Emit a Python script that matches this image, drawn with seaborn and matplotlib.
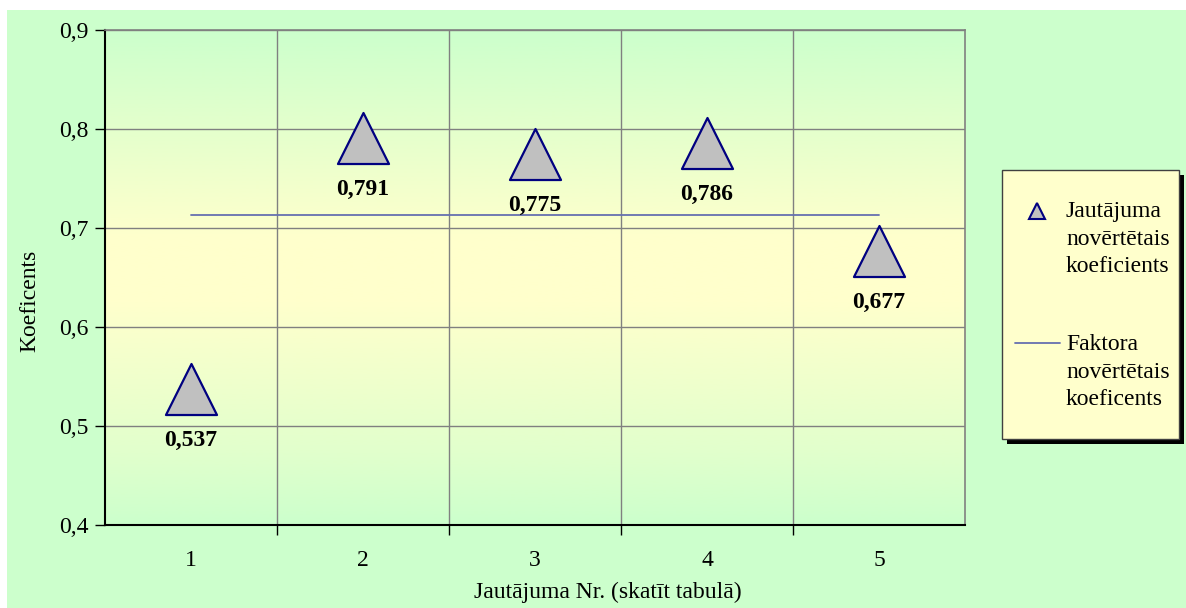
import numpy as np
import pandas as pd
import matplotlib
matplotlib.use("Agg")
import matplotlib.pyplot as plt
import matplotlib.transforms as mtransforms
from matplotlib.colors import LinearSegmentedColormap
from matplotlib.patches import Rectangle
from matplotlib.lines import Line2D
import seaborn as sns

# Data
questions = [1, 2, 3, 4, 5]
coefficients = [0.537, 0.791, 0.775, 0.786, 0.677]
factor_coefficient = round(float(np.mean(coefficients)), 4)
y_ticks = [0.4, 0.5, 0.6, 0.7, 0.8, 0.9]
y_tick_labels = ["0,4", "0,5", "0,6", "0,7", "0,8", "0,9"]
legend_labels = ["Jautājuma\nnovērtētais\nkoeficients", "Faktora\nnovērtētais\nkoeficents"]
x_label = "Jautājuma Nr. (skatīt tabulā)"
y_label = "Koeficents"

sns.set_theme(style="white")
plt.rcParams["font.family"] = ["Liberation Serif", "DejaVu Serif"]
plt.rcParams["text.color"] = "black"
plt.rcParams["xtick.color"] = "black"
plt.rcParams["ytick.color"] = "black"
plt.rcParams["xtick.labelcolor"] = "black"
plt.rcParams["ytick.labelcolor"] = "black"

GREEN = "#CCFFCC"
YELLOW = "#FFFFCC"
NAVY = "#000080"
FS = 17

df = pd.DataFrame({"q": questions, "k": coefficients})

fig = plt.figure(figsize=(11.86, 6.08), dpi=100)
fig.patch.set_facecolor("white")
fig.add_artist(Rectangle((7 / 1186, 0), 1 - 7 / 1186, 1 - 10 / 608,
                         transform=fig.transFigure, facecolor=GREEN,
                         edgecolor="none", zorder=-10))

ax = fig.add_axes([105 / 1186, 1 - 525 / 608, 860 / 1186, 495 / 608])
ax.set_xlim(0.5, 5.5)
ax.set_ylim(0.4, 0.9)

# Vertical gradient in the plot area: green at the edges, yellow in the middle
cmap = LinearSegmentedColormap.from_list(
    "bg", [(0.0, GREEN), (0.15, "#E2FFCC"), (0.45, YELLOW), (0.58, YELLOW), (1.0, GREEN)])
grad = np.linspace(1, 0, 256).reshape(-1, 1)
ax.imshow(grad, cmap=cmap, aspect="auto", extent=(0.5, 5.5, 0.4, 0.9),
          origin="upper", zorder=0, interpolation="bilinear")

# Grid
for b in [1.5, 2.5, 3.5, 4.5]:
    ax.axvline(b, color="#808080", lw=1.0, zorder=1)
for yv in y_ticks[1:]:
    ax.axhline(yv, color="#808080", lw=1.0, zorder=1)

# Factor line
ax.plot([questions[0], questions[-1]], [factor_coefficient] * 2,
        color="#6670B0", lw=1.3, zorder=2)

# Question markers
sns.scatterplot(data=df, x="q", y="k", ax=ax, marker="^", s=1350,
                color="#C0C0C0", edgecolor=NAVY, linewidth=1.6, zorder=3,
                legend=False)
ax.set_xlabel("")
ax.set_ylabel("")

for q, k in zip(questions, coefficients):
    ax.annotate(f"{k:.3f}".replace(".", ","), (q, k), xytext=(0, -37),
                textcoords="offset points", ha="center", va="center",
                fontsize=17, fontweight="bold", color="black", zorder=4)

# Axes styling
ax.set_xticks([1.5, 2.5, 3.5, 4.5])
ax.set_xticklabels([])
ax.set_yticks(y_ticks)
ax.set_yticklabels(y_tick_labels, fontsize=FS, color="black")
ax.tick_params(axis="both", which="major", length=7, width=1, color="black",
               direction="out", bottom=True, left=True, pad=5)
cat_trans = mtransforms.blended_transform_factory(ax.transData, fig.transFigure)
for q in questions:
    ax.text(q, 1 - 561 / 608, str(q), transform=cat_trans,
            ha="center", va="center", fontsize=FS, color="black")
fig.text(608 / 1186, 1 - 592 / 608, x_label, ha="center", va="center",
         fontsize=FS, color="black")
fig.text(30 / 1186, 1 - 301 / 608, y_label, ha="center", va="center",
         rotation=90, fontsize=FS, color="black")

for side in ["top", "right"]:
    ax.spines[side].set_color("#808080")
    ax.spines[side].set_linewidth(1.2)
for side in ["left", "bottom"]:
    ax.spines[side].set_color("black")
    ax.spines[side].set_linewidth(1.5)
ax.set_facecolor(GREEN)

# Legend box with shadow
lx0, ly0, lw, lh = 1002, 170, 177, 269
fig.add_artist(Rectangle(((lx0 + 5) / 1186, 1 - (ly0 + lh + 5) / 608), lw / 1186, lh / 608,
                         transform=fig.transFigure, facecolor="black",
                         edgecolor="none", zorder=5))
fig.add_artist(Rectangle((lx0 / 1186, 1 - (ly0 + lh) / 608), lw / 1186, lh / 608,
                         transform=fig.transFigure, facecolor=YELLOW,
                         edgecolor="#404040", lw=1.0, zorder=6))
fig.add_artist(Line2D([1037 / 1186], [1 - 211 / 608], marker="^", markersize=11,
                      markerfacecolor="#C0C0C0", markeredgecolor=NAVY,
                      markeredgewidth=1.5, transform=fig.transFigure, zorder=7))
fig.add_artist(Line2D([1015 / 1186, 1060 / 1186], [1 - 343 / 608] * 2,
                      color="#6670B0", lw=1.3, transform=fig.transFigure, zorder=7))
fig.text(1066 / 1186, 1 - 239 / 608, legend_labels[0], ha="left", va="center",
         fontsize=FS, linespacing=1.4, color="black", zorder=8)
fig.text(1066 / 1186, 1 - 372 / 608, legend_labels[1], ha="left", va="center",
         fontsize=FS, linespacing=1.4, color="black", zorder=8)

fig.savefig("out.png", dpi=100, facecolor=fig.get_facecolor())
